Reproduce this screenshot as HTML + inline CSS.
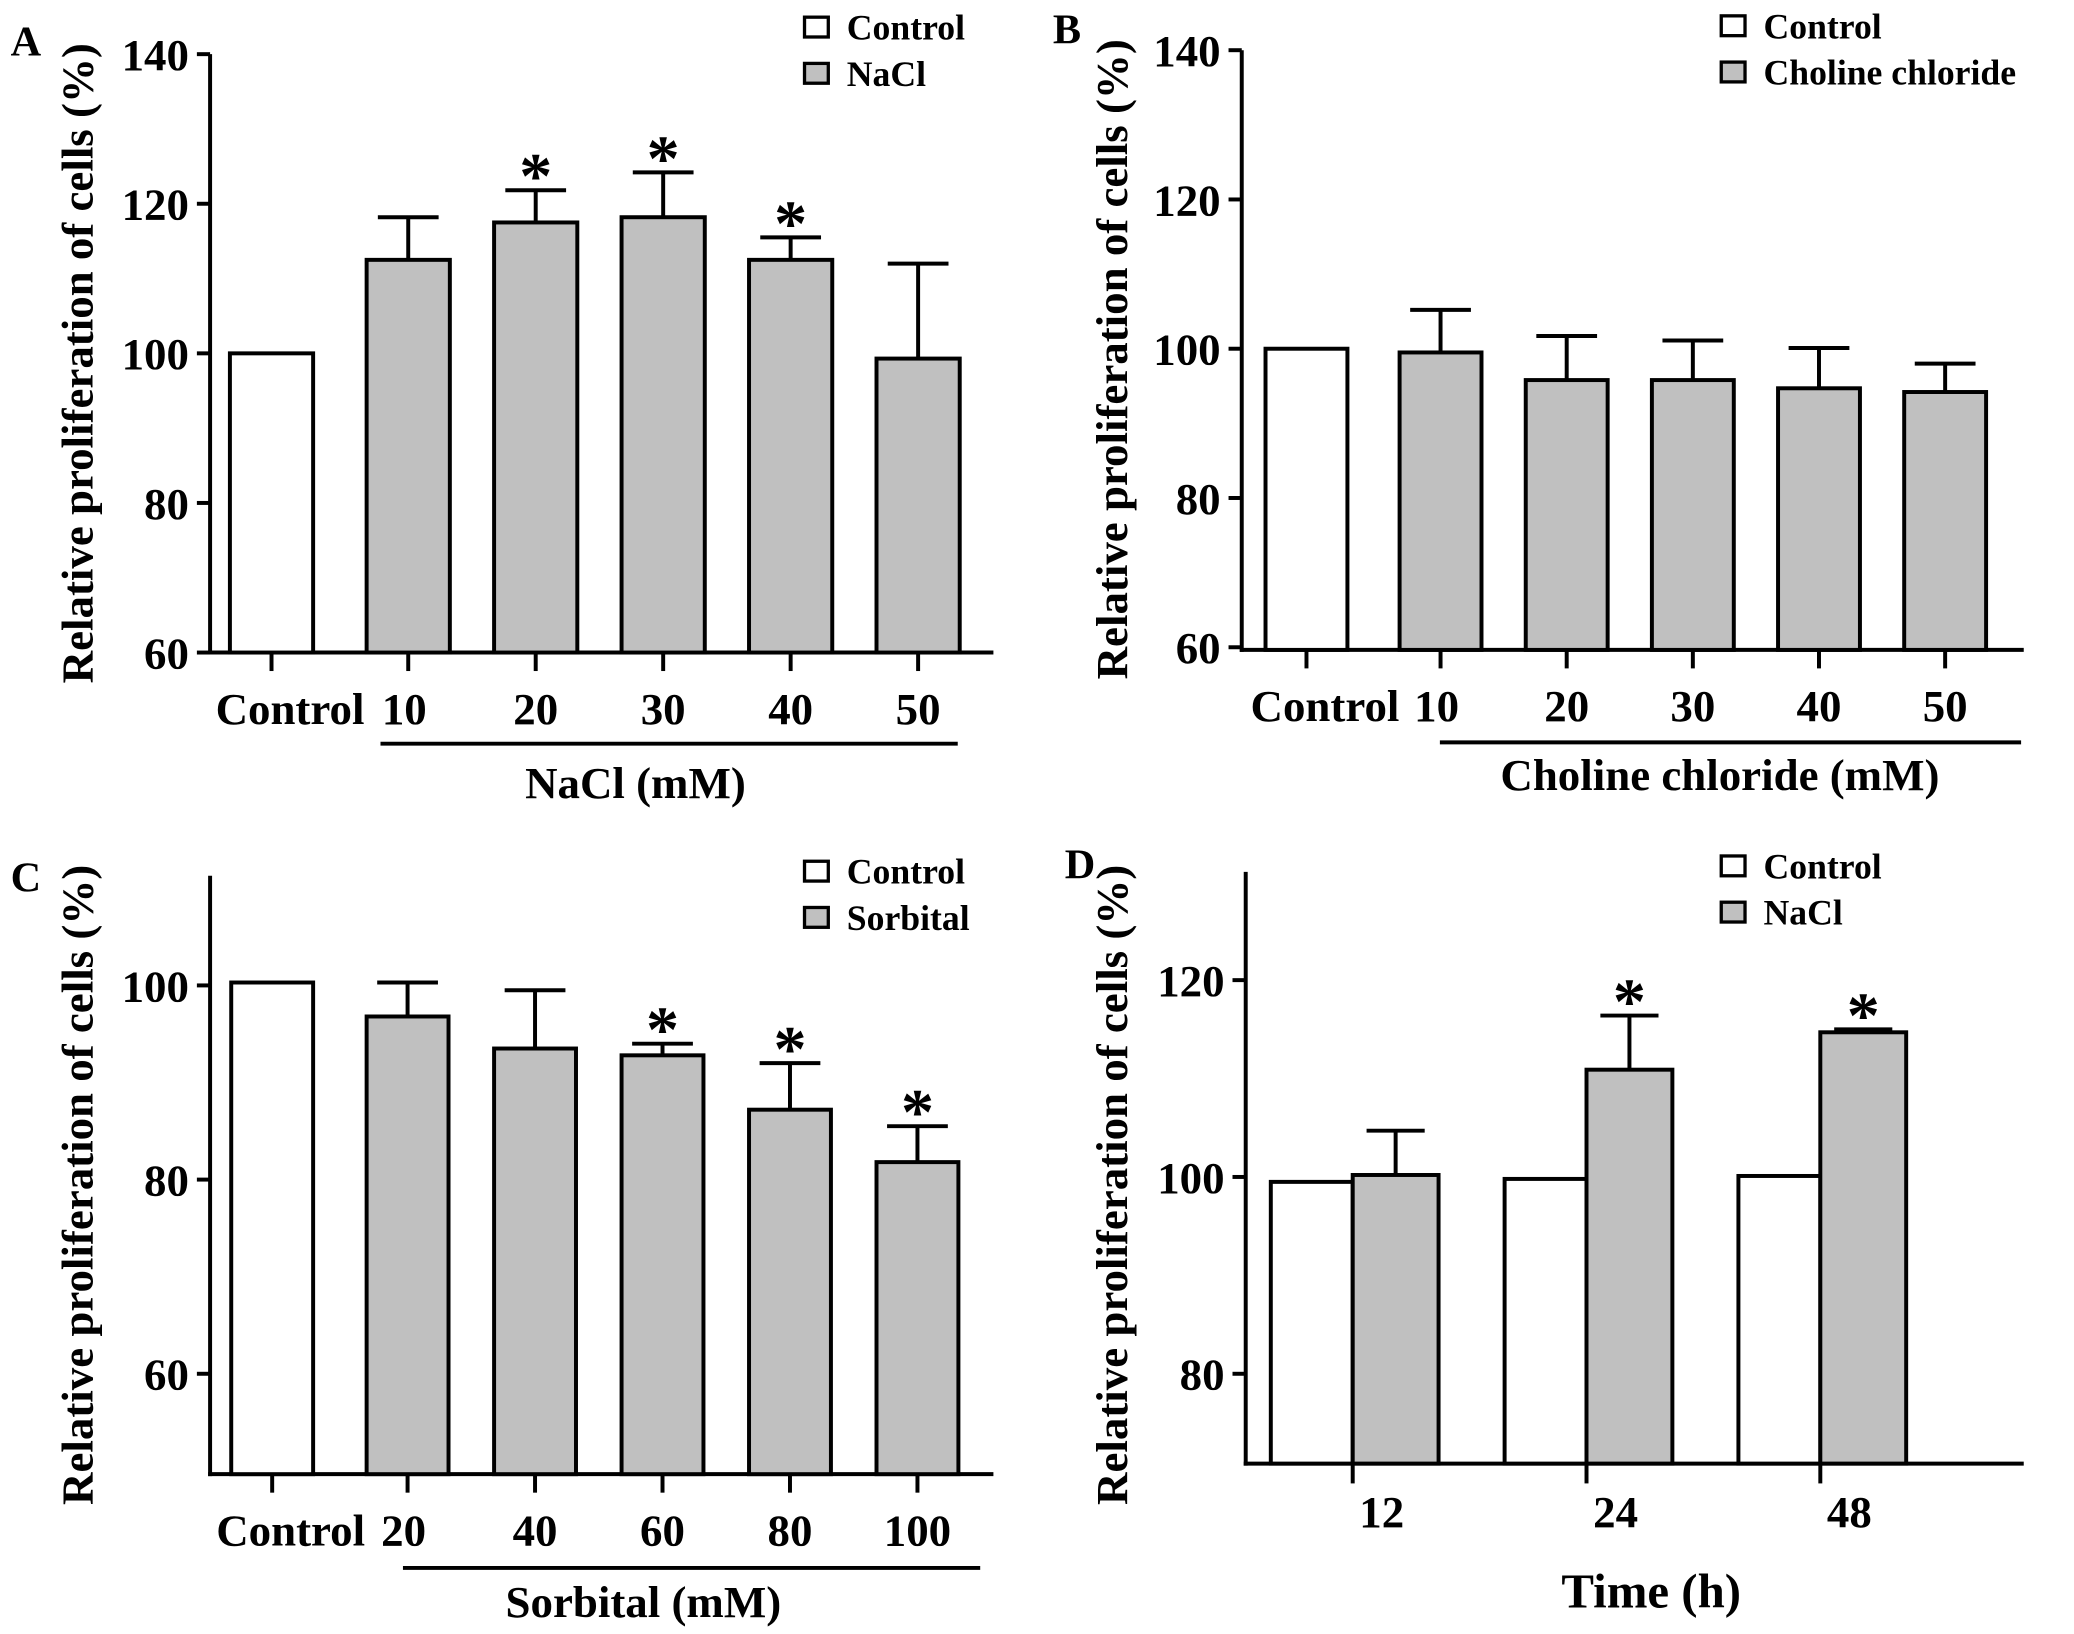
<!DOCTYPE html>
<html><head><meta charset="utf-8"><style>
html,body{margin:0;padding:0;background:#fff;}
svg{display:block;}
text{font-family:"Liberation Serif",serif;font-weight:bold;fill:#000;}
</style></head><body>
<svg id="fig" width="2074" height="1634" viewBox="0 0 1570 1237" xmlns="http://www.w3.org/2000/svg"></svg>
<script>
// Panel A data
const catsA = ["Control","10","20","30","40","50"];
const valsA = [100,112.5,117.5,118.2,112.5,99.3];
const errA = [null,118.2,121.8,124.2,115.5,112];
const starA = [false,false,true,true,true,false];
const ticksA = [60,80,100,120,140];
// Panel B data
const catsB = ["Control","10","20","30","40","50"];
const valsB = [100,99.5,95.8,95.8,94.7,94.2];
const errB = [null,105.2,101.7,101.1,100.1,98];
const starB = [false,false,false,false,false,false];
const ticksB = [60,80,100,120,140];
// Panel C data
const catsC = ["Control","20","40","60","80","100"];
const valsC = [100.3,96.8,93.5,92.8,87.2,81.8];
const errC = [null,100.3,99.5,94,92,85.5];
const starC = [false,false,false,true,true,true];
const ticksC = [60,80,100];
// Panel D data
const catsD = ["12","24","48"];
const ctrlD = [99.5,99.8,100.1];
const naclD = [100.2,110.9,114.7];
const errD = [104.7,116.4,115];
const starD = [false,true,true];
const ticksD = [80,100,120];

const svg = document.getElementById('fig');
const NS = "http://www.w3.org/2000/svg";
function el(tag, attrs, parent, txt){
  const e = document.createElementNS(NS, tag);
  for (const k in attrs) e.setAttribute(k, attrs[k]);
  if (txt !== undefined) e.textContent = txt;
  (parent||svg).appendChild(e);
  return e;
}
function scale(v0,y0,v1,y1){ return v => y0 + (v - v0)*(y1 - y0)/(v1 - v0); }

function panel(cfg){
  const g = el('g', {});
  
  
  const y = scale(cfg.v0, cfg.y0, cfg.v1, cfg.y1);
  const L = el('text', {x:cfg.letter[0], y:cfg.letter[1], 'font-size':32}, g, cfg.letter[2]);
  
  
  const ya = el('line', {x1:cfg.ax, y1:cfg.axTop, x2:cfg.ax, y2:cfg.axBot+1.5, stroke:'#000','stroke-width':3}, g);
  
  
  const xa = el('line', {x1:cfg.ax-1.5, y1:cfg.axBot, x2:cfg.axRight, y2:cfg.axBot, stroke:'#000','stroke-width':3}, g);
  
  
  cfg.ticks.forEach(t => {
    const ty = y(t);
    el('line', {x1:cfg.ax-10, y1:ty, x2:cfg.ax, y2:ty, stroke:'#000','stroke-width':3}, g);
    const tl = el('text', {x:cfg.ax-16, y:ty+12, 'font-size':34, 'text-anchor':'end'}, g, String(t));
    
    
  });
  const yt = el('text', {x:0, y:0, 'font-size':34, 'text-anchor':'middle', transform:`translate(${cfg.ytx},${cfg.yty}) rotate(-90)`}, g, 'Relative proliferation of cells (%)');
  
  
  return {g, y};
}
function bar(g, x, w, v, y, base, fill, name){
  const top = y(v);
  const r = el('rect', {x:x, y:top, width:w, height:base-top, fill:fill, stroke:'#000','stroke-width':3}, g);
  
  
}
function errbar(g, cx, v, e, y, cap){
  const l = el('path', {d:`M${cx},${y(v)} V${y(e)} M${cx-cap},${y(e)} H${cx+cap}`, stroke:'#000','stroke-width':3, fill:'none'}, g);
  
  
}
function star(g, cx, yy){
  const s = el('text', {x:cx, y:yy+8, 'font-size':50, 'text-anchor':'middle'}, g, '*');
  
  
}
function legend(g, x, y1, y2, labels){
  [[y1,'#fff',labels[0]],[y2,'#c0c0c0',labels[1]]].forEach(([yy,f,t])=>{
    const lg = el('g',{},g);
    
    
    el('rect',{x:x, y:yy-8, width:18, height:15, fill:f, stroke:'#000','stroke-width':2.5}, lg);
    el('text',{x:x+32, y:yy+9, 'font-size':27}, lg, t);
  });
}
function catPanel(cfg, cats, vals, errs, stars){
  const {g, y} = panel(cfg);
  const base = cfg.axBot;
  cats.forEach((c,i)=>{
    const x = cfg.barX[0] + i*cfg.pitch + (i>0?cfg.gap:0);
    const cx = x + cfg.bw/2;
    bar(g, x, cfg.bw, vals[i], y, base, i===0?'#fff':'#c0c0c0', 'bar-'+c.toLowerCase());
    if (errs[i]!==null) errbar(g, cx, vals[i], errs[i], y, 23);
    if (stars[i]) star(g, cx, y(errs[i]) - 2);
    el('line',{x1:cx, y1:base, x2:cx, y2:base+14, stroke:'#000','stroke-width':3}, g);
    const lx = i===0 ? cx+14 : cx+ (i===1?-3:0);
    const tl = el('text',{x:lx, y:base+54, 'font-size':34, 'text-anchor':'middle'}, g, c);
    
    
  });
  const bl = el('line',{x1:cfg.brk[0], y1:cfg.brk[2], x2:cfg.brk[1], y2:cfg.brk[2], stroke:'#000','stroke-width':3}, g);
  
  
  const xt = el('text',{x:cfg.xt[0], y:cfg.xt[1], 'font-size':34, 'text-anchor':'middle'}, g, cfg.xt[2]);
  
  
  legend(g, cfg.leg[0], cfg.leg[1], cfg.leg[2], cfg.leg[3]);
}

catPanel({name:'panel-a', letter:[8,42,'A'], v0:60, y0:494, v1:140, y1:41, ax:159, axTop:41, axBot:494, axRight:752,
  ticks:ticksA, ytx:70, yty:275, barX:[174], pitch:96.5, gap:7, bw:63, brk:[288,725,563], xt:[481,604,'NaCl (mM)'],
  leg:[609,21,56,['Control','NaCl']]}, catsA, valsA, errA, starA);

catPanel({name:'panel-b', letter:[797,33,'B'], v0:60, y0:490, v1:140, y1:38, ax:940, axTop:38, axBot:492, axRight:1532,
  ticks:ticksB, ytx:853, yty:272, barX:[958], pitch:95.5, gap:6, bw:62, brk:[1090,1530,562], xt:[1302,598,'Choline chloride (mM)'],
  leg:[1303,20,55,['Control','Choline chloride']]}, catsB, valsB, errB, starB);

catPanel({name:'panel-c', letter:[8,675,'C'], v0:60, y0:1040, v1:100, y1:746, ax:159, axTop:663, axBot:1116, axRight:752,
  ticks:ticksC, ytx:70, yty:897, barX:[175], pitch:96.5, gap:6, bw:62, brk:[305,742,1187], xt:[487,1224,'Sorbital (mM)'],
  leg:[609,660,695,['Control','Sorbital']]}, catsC, valsC, errC, starC);

(function(){
  const cfg = {name:'panel-d', letter:[806,665,'D'], v0:80, y0:1040, v1:120, y1:742, ax:943, axTop:660, axBot:1108, axRight:1532,
    ticks:ticksD, ytx:853, yty:897};
  const {g, y} = panel(cfg);
  const base = cfg.axBot;
  const startX = 962, groupPitch = 177, bw = 62;
  catsD.forEach((c,i)=>{
    const x0 = startX + i*groupPitch;
    bar(g, x0, bw, ctrlD[i], y, base, '#fff', 'bar-control-'+c+'h');
    bar(g, x0+bw, bw+3, naclD[i], y, base, '#c0c0c0', 'bar-nacl-'+c+'h');
    const cx = x0+bw+(bw+3)/2;
    errbar(g, cx, naclD[i], errD[i], y, 22);
    if (starD[i]) star(g, cx, y(errD[i]) - 2);
    el('line',{x1:x0+bw, y1:base, x2:x0+bw, y2:base+15, stroke:'#000','stroke-width':3}, g);
    const tl = el('text',{x:x0+bw+22, y:base+48, 'font-size':34, 'text-anchor':'middle'}, g, c);
    
    
  });
  const xt = el('text',{x:1250, y:1217, 'font-size':37, 'text-anchor':'middle'}, g, 'Time (h)');
  
  
  legend(g, 1303, 656, 691, ['Control','NaCl']);
})();
</script>
</body></html>
